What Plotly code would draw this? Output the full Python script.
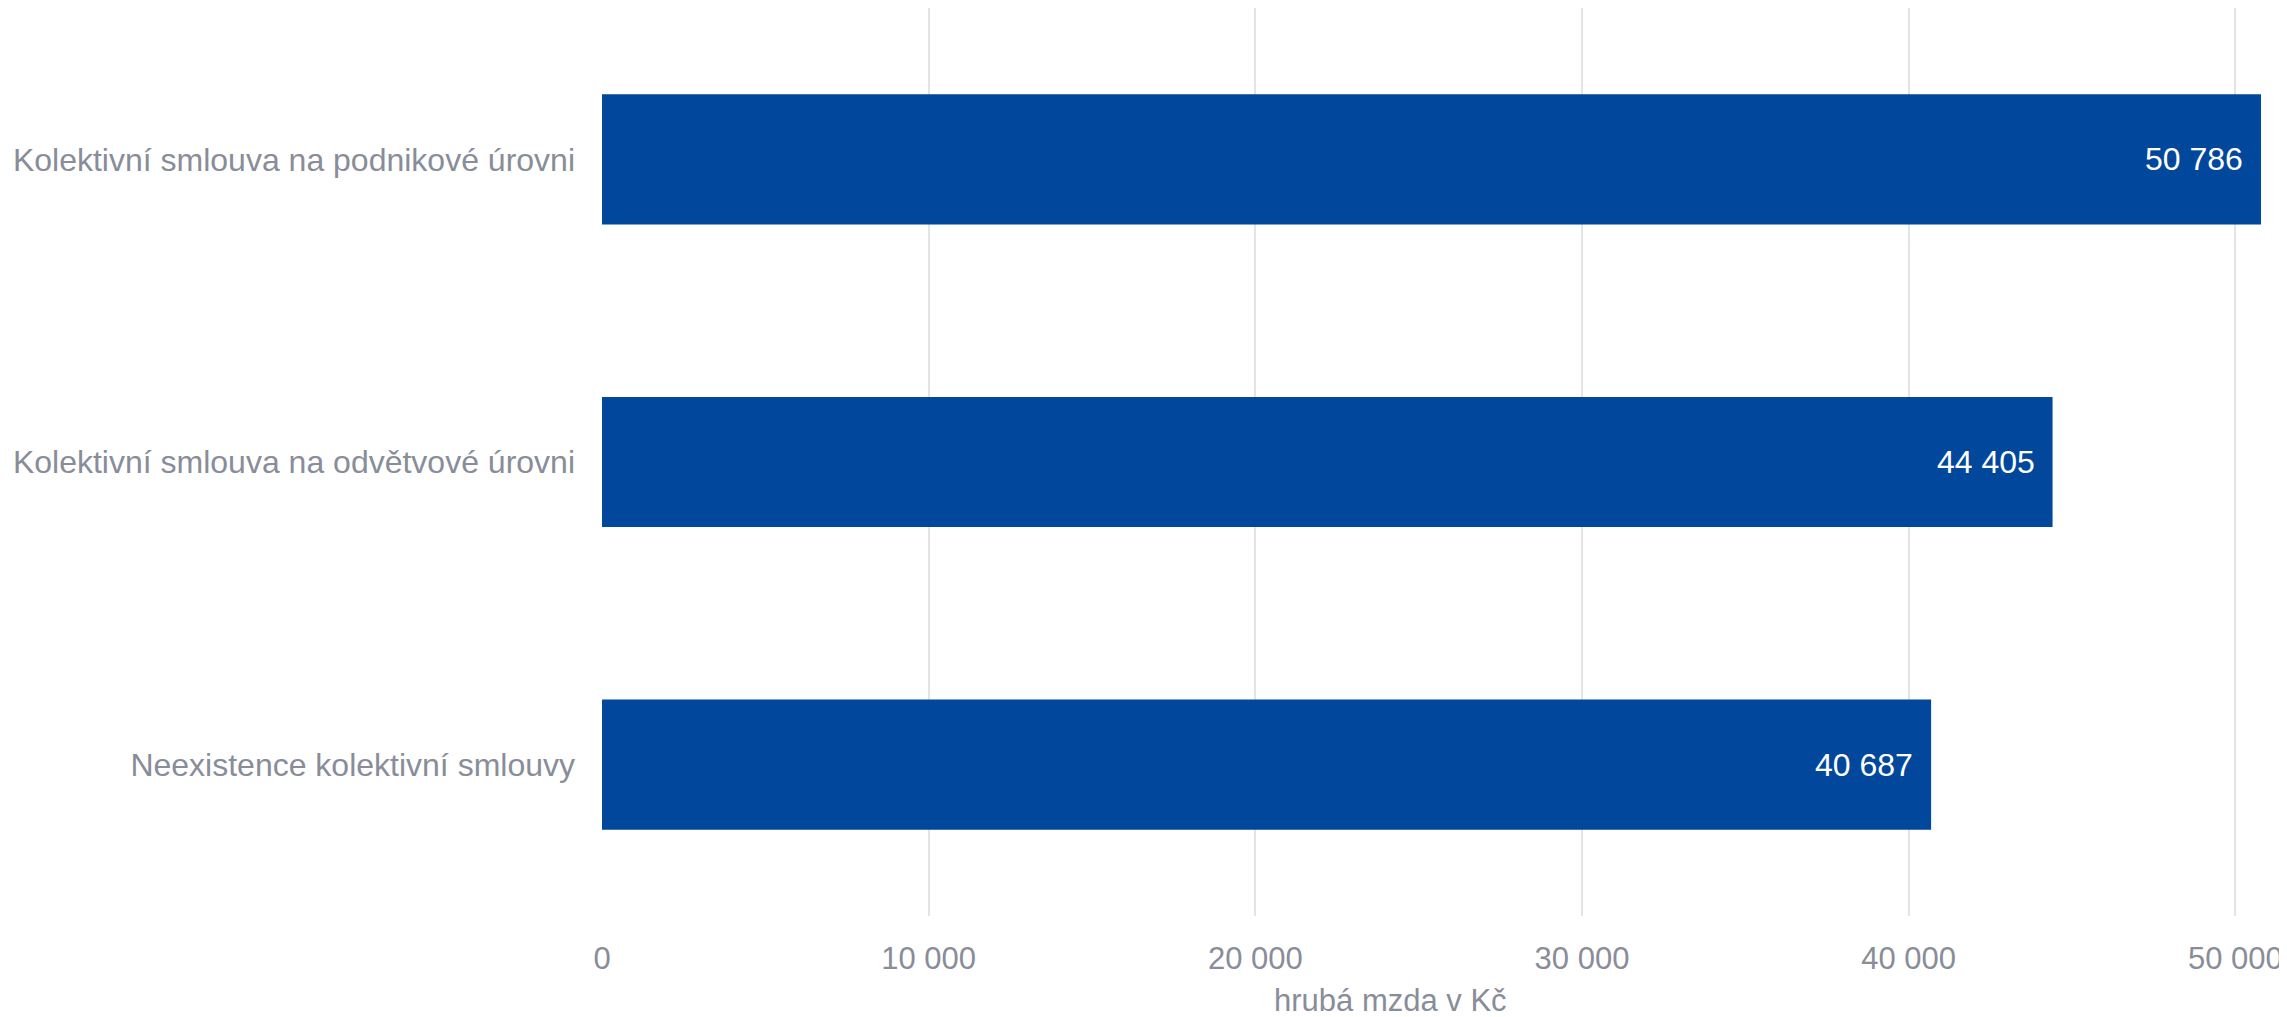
import plotly.graph_objects as go

categories = [
    "Kolektivní smlouva na podnikové úrovni",
    "Kolektivní smlouva na odvětvové úrovni",
    "Neexistence kolektivní smlouvy",
]
values = [50786, 44405, 40687]
tick_vals = [0, 10000, 20000, 30000, 40000, 50000]
tick_text = ["0", "10 000", "20 000", "30 000", "40 000", "50 000"]
axis_title = "hrubá mzda v Kč"

BAR = "#01479b"
GREY = "#888d99"
FONT = "Liberation Sans, Arial, sans-serif"

# page body has an 8px margin, so the figure is 8px smaller than the window
OFF = 8
W, H = 2287 - OFF, 1017 - OFF
L, R, T, B = 602 - OFF, 19, 8 - OFF, 101

fig = go.Figure()
fig.add_trace(go.Bar(
    x=values, y=categories, orientation="h",
    marker=dict(color=BAR, line=dict(width=0)),
    width=0.43, hoverinfo="x+y",
))

def fmt(v):
    return f"{v:,}".replace(",", " ")

for c, v in zip(categories, values):
    fig.add_annotation(x=v, y=c, xref="x", yref="y", text=fmt(v),
                       showarrow=False, xanchor="right", yanchor="middle",
                       xshift=-16, font=dict(family=FONT, size=32, color="white"))

ttl_x, ttl_y = 1390 - OFF, 1000 - OFF
fig.add_annotation(x=(ttl_x - L) / (W - L - R), y=-(ttl_y - (H - B)) / (H - T - B),
                   xref="paper", yref="paper", text=axis_title, showarrow=False,
                   xanchor="center", yanchor="middle",
                   font=dict(family=FONT, size=31, color=GREY))

fig.update_layout(
    width=W, height=H,
    margin=dict(l=L, r=R, t=T, b=B, pad=0, autoexpand=False),
    paper_bgcolor="white", plot_bgcolor="white",
    showlegend=False,
    font=dict(family=FONT, size=32, color=GREY),
    separators=", ",
    xaxis=dict(range=[0, 51000], tickvals=tick_vals, ticktext=tick_text,
               showgrid=True, gridcolor="#e4e4e4", gridwidth=1.5,
               zeroline=False, showline=False, ticks="", automargin=False,
               tickfont=dict(family=FONT, size=31, color=GREY),
               ticklabelstandoff=21, fixedrange=True),
    yaxis=dict(categoryorder="array", categoryarray=categories,
               autorange="reversed", showgrid=False, zeroline=False,
               showline=False, ticks="", ticklabelstandoff=26, automargin=False,
               tickfont=dict(family=FONT, size=32, color=GREY), fixedrange=True),
)

fig.write_html("out.html", config={"displayModeBar": False})
